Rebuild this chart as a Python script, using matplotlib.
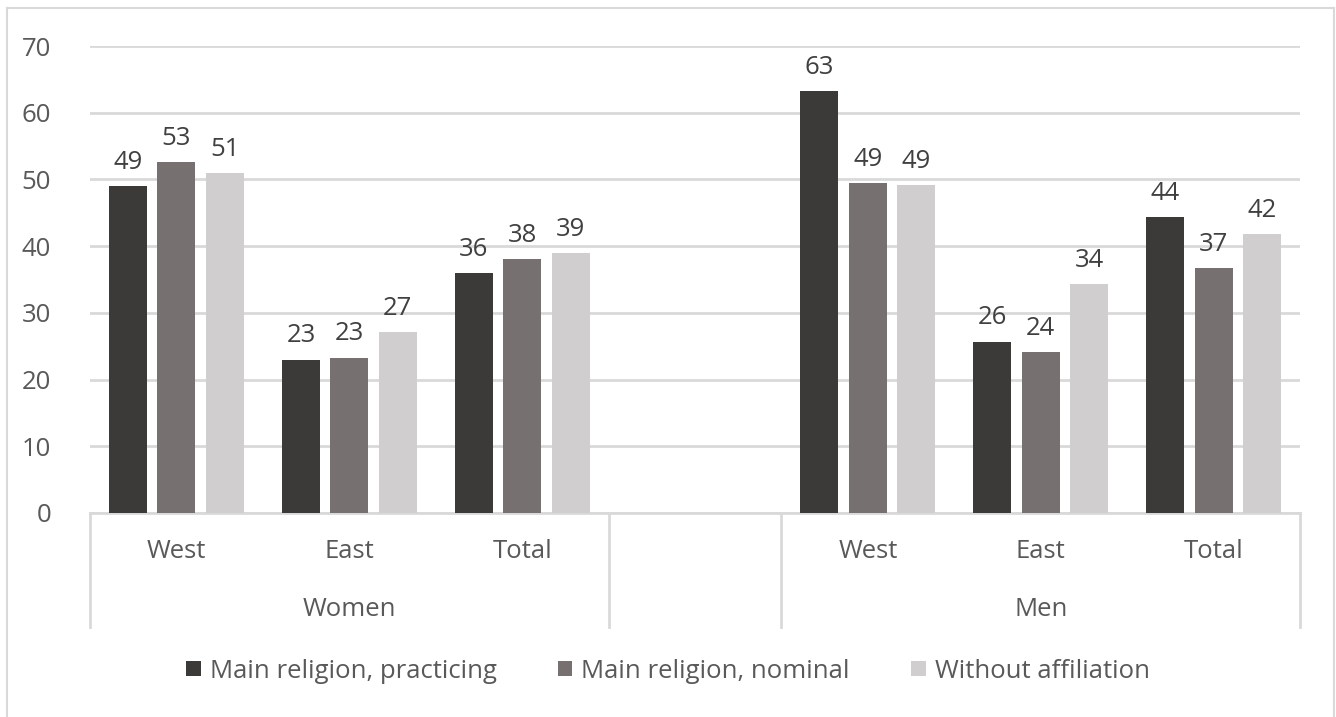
import numpy as np
import matplotlib.pyplot as plt
import matplotlib.transforms as mtransforms
from matplotlib.patches import Patch
from matplotlib.lines import Line2D

plt.rcParams['font.family'] = ['Open Sans', 'DejaVu Sans']

# data (one empty slot between the two groups)
categories = ['West', 'East', 'Total', '', 'West', 'East', 'Total']
groups = ['Women', 'Men']
series_names = ['Main religion, practicing', 'Main religion, nominal', 'Without affiliation']
practicing = [49.0, 23.0, 36.0, np.nan, 63.2, 25.7, 44.4]
nominal = [52.6, 23.3, 38.0, np.nan, 49.4, 24.1, 36.7]
no_affil = [50.9, 27.1, 39.0, np.nan, 49.2, 34.3, 41.8]
yticks = [0, 10, 20, 30, 40, 50, 60, 70]

colors = ['#3b3a38', '#767170', '#d0cecf']
grid_col = '#d9d9d9'
text_col = '#595959'
fs = 18.5

W, H = 1336, 717
fig = plt.figure(figsize=(W / 100, H / 100), dpi=100)
ax = fig.add_axes([90 / W, 1 - 513 / H, 1210 / W, 467 / H])

x = np.arange(len(categories))
bar_w = 0.22
step = 0.28
for i, (vals, c) in enumerate(zip([practicing, nominal, no_affil], colors)):
    bars = ax.bar(x + (i - 1) * step, vals, width=bar_w, color=c, zorder=3)
    ax.bar_label(bars, labels=['' if np.isnan(v) else '%.0f' % v for v in vals],
                 padding=8, fontsize=fs, color='#404040')

ax.set_xlim(-0.5, len(categories) - 0.5)
ax.set_ylim(0, 70)
ax.set_yticks(yticks)
ax.set_yticklabels([str(t) for t in yticks], fontsize=fs, color=text_col)
ax.tick_params(axis='y', length=0, pad=28)
ax.set_xticks([])
ax.yaxis.grid(True, color=grid_col, linewidth=2, zorder=0)
for s in ['top', 'right', 'left']:
    ax.spines[s].set_visible(False)
ax.spines['bottom'].set_color(grid_col)
ax.spines['bottom'].set_linewidth(2)

# two-level category axis
trans = mtransforms.blended_transform_factory(ax.transData, ax.transAxes)
bottom = -114 / 467
for xb in [-0.5, 2.5, 3.5, 6.5]:
    ax.add_line(Line2D([xb, xb], [0, bottom], transform=trans, color=grid_col,
                       linewidth=2, clip_on=False))
for xi, lab in zip(x, categories):
    ax.text(xi, -39 / 467, lab, transform=trans, ha='center', va='center',
            fontsize=fs, color=text_col)
for gx, g in zip([1, 5], groups):
    ax.text(gx, -96 / 467, g, transform=trans, ha='center', va='center',
            fontsize=fs, color=text_col)

handles = [Patch(facecolor=c, label=n) for c, n in zip(colors, series_names)]
fig.legend(handles=handles, loc='center', bbox_to_anchor=(0.5, 1 - 671 / H), ncol=3,
           frameon=False, fontsize=fs, labelcolor=text_col, handlelength=0.55,
           handleheight=0.55, handletextpad=0.35, columnspacing=2.4)

# outer chart frame
fig.add_artist(Line2D([7 / W, 7 / W], [0, 1 - 8 / H], color=grid_col, linewidth=1.5))
fig.add_artist(Line2D([7 / W, 1334 / W], [1 - 8 / H, 1 - 8 / H], color=grid_col, linewidth=1.5))
fig.add_artist(Line2D([1334 / W, 1334 / W], [0, 1 - 8 / H], color=grid_col, linewidth=1.5))

fig.savefig('out.png', dpi=100)
